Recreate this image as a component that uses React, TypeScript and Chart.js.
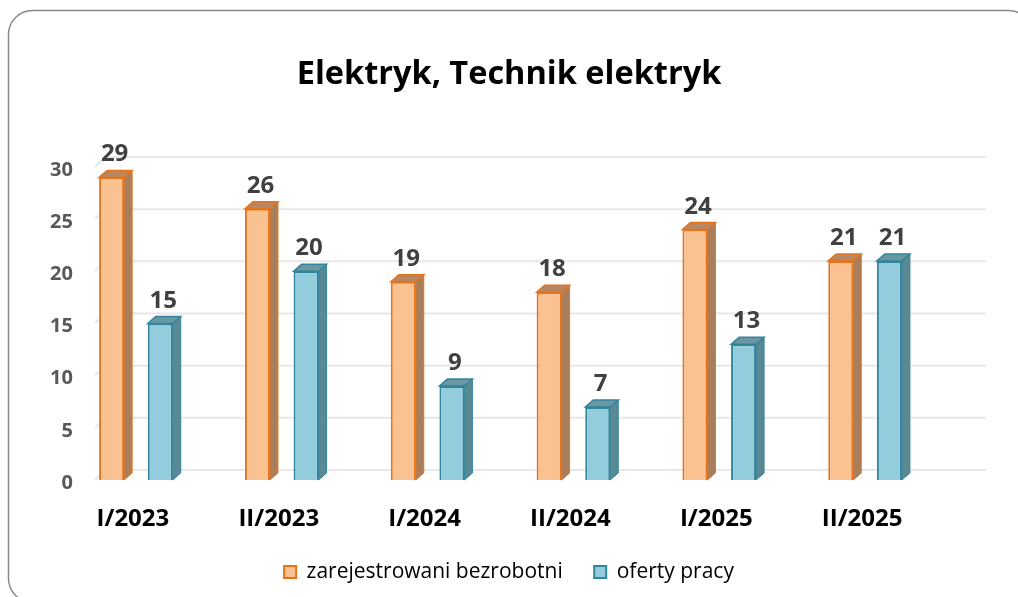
import React, { useEffect, useRef } from "react";
import { Chart, registerables } from "chart.js";

Chart.register(...registerables);

const titleText = "Elektryk, Technik elektryk";
const categories = ["I/2023", "II/2023", "I/2024", "II/2024", "I/2025", "II/2025"];
const seriesNames = ["zarejestrowani bezrobotni", "oferty pracy"];
const unemployed = [29, 26, 19, 18, 24, 21];
const jobOffers = [15, 20, 9, 7, 13, 21];
const yTicks = [0, 5, 10, 15, 20, 25, 30];

const FONT = "'Open Sans', 'DejaVu Sans', sans-serif";

const faces = [
  { front: "#fac191", border: "#e8731a", side: "#a97e5a", top: "#b68760" },
  { front: "#93cddd", border: "#31859c", side: "#5a8893", top: "#6a97a2" },
];

const DX = 8;
const DY = 7;

const framePlugin = {
  id: "frame",
  beforeDraw(chart: any) {
    const ctx = chart.ctx;
    ctx.save();
    ctx.fillStyle = "#ffffff";
    ctx.fillRect(0, 0, chart.width, chart.height);
    ctx.strokeStyle = "#8a8a8a";
    ctx.lineWidth = 1.5;
    const x = 8.5, y = 10.5, w = 1024, h = 592, r = 24;
    ctx.beginPath();
    ctx.moveTo(x + r, y);
    ctx.lineTo(x + w - r, y);
    ctx.arcTo(x + w, y, x + w, y + r, r);
    ctx.lineTo(x + w, y + h - r);
    ctx.arcTo(x + w, y + h, x + w - r, y + h, r);
    ctx.lineTo(x + r, y + h);
    ctx.arcTo(x, y + h, x, y + h - r, r);
    ctx.lineTo(x, y + r);
    ctx.arcTo(x, y, x + r, y, r);
    ctx.stroke();
    ctx.restore();
  },
};

const wallPlugin = {
  id: "wall",
  beforeDatasetsDraw(chart: any) {
    const ctx = chart.ctx;
    const ys = chart.scales.y;
    const area = chart.chartArea;
    ctx.save();
    ctx.strokeStyle = "#e8e8e8";
    ctx.lineWidth = 2;
    yTicks.forEach((v) => {
      const yf = ys.getPixelForValue(v);
      ctx.beginPath();
      ctx.moveTo(area.left + 32, yf);
      ctx.lineTo(area.left + 42, yf - 10);
      ctx.lineTo(area.right + 48, yf - 10);
      ctx.stroke();
    });
    ctx.restore();
  },
};

const bar3dPlugin = {
  id: "bar3d",
  afterDatasetsDraw(chart: any) {
    const ctx = chart.ctx;
    ctx.save();
    chart.data.datasets.forEach((ds: any, i: number) => {
      const meta = chart.getDatasetMeta(i);
      const f = faces[i];
      meta.data.forEach((bar: any, j: number) => {
        const { x, y, base, width } = bar.getProps(["x", "y", "base", "width"], true);
        const l = x - width / 2;
        const r = x + width / 2;
        ctx.lineWidth = 1;
        ctx.strokeStyle = f.border;
        // side face
        ctx.beginPath();
        ctx.moveTo(r, y);
        ctx.lineTo(r + DX, y - DY);
        ctx.lineTo(r + DX, base - DY);
        ctx.lineTo(r, base);
        ctx.closePath();
        ctx.fillStyle = f.side;
        ctx.fill();
        ctx.stroke();
        // top face
        ctx.beginPath();
        ctx.moveTo(l, y);
        ctx.lineTo(l + DX, y - DY);
        ctx.lineTo(r + DX, y - DY);
        ctx.lineTo(r, y);
        ctx.closePath();
        ctx.fillStyle = f.top;
        ctx.fill();
        ctx.lineWidth = 1.5;
        ctx.stroke();
        // value label
        ctx.fillStyle = "#404040";
        ctx.font = `bold 24px ${FONT}`;
        ctx.textAlign = "center";
        ctx.textBaseline = "alphabetic";
        ctx.fillText(String(ds.data[j]), x + 3, y - 16);
      });
    });
    ctx.restore();
  },
};

export default function App() {
  const ref = useRef<HTMLCanvasElement | null>(null);

  useEffect(() => {
    if (!ref.current) return;
    const chart = new Chart(ref.current, {
      type: "bar",
      data: {
        labels: categories,
        datasets: [
          {
            label: seriesNames[0],
            data: unemployed,
            backgroundColor: faces[0].front,
            borderColor: faces[0].border,
            borderWidth: 2,
            categoryPercentage: 0.667,
            barPercentage: 0.514,
          },
          {
            label: seriesNames[1],
            data: jobOffers,
            backgroundColor: faces[1].front,
            borderColor: faces[1].border,
            borderWidth: 2,
            categoryPercentage: 0.667,
            barPercentage: 0.514,
          },
        ],
      },
      options: {
        animation: false,
        responsive: false,
        maintainAspectRatio: false,
        layout: { padding: { left: 0, right: 0, top: 0, bottom: 4.5 } },
        plugins: {
          title: {
            display: true,
            text: titleText,
            color: "#000000",
            font: { family: FONT, size: 32.5, weight: "bold" },
            padding: { top: 55, bottom: 73 },
          },
          legend: {
            position: "bottom",
            labels: {
              color: "#000000",
              font: { family: FONT, size: 21 },
              boxWidth: 12,
              boxHeight: 12,
              padding: 31.5,
            },
          },
          tooltip: { enabled: false },
        },
        scales: {
          x: {
            grid: { display: false },
            border: { display: false },
            ticks: {
              color: "#000000",
              font: { family: FONT, size: 24, weight: "bold" },
              padding: 17,
              labelOffset: -3,
            },
            afterFit: (s: any) => {
              s.height = 50;
            },
          },
          y: {
            min: 0,
            max: 30,
            grid: { display: false },
            border: { display: false },
            ticks: {
              stepSize: 5,
              color: "#595959",
              font: { family: FONT, size: 20, weight: "bold" },
              mirror: true,
              crossAlign: "far",
              padding: -13,
              labelOffset: 3,
            },
            afterFit: (s: any) => {
              s.width = 63;
            },
          },
          pad: {
            type: "linear",
            position: "right",
            display: true,
            grid: { display: false },
            border: { display: false },
            ticks: { display: false },
            afterFit: (s: any) => {
              s.width = 80;
            },
          },
        },
      },
      plugins: [framePlugin, wallPlugin, bar3dPlugin],
    });
    return () => chart.destroy();
  }, []);

  return (
    <div style={{ position: "fixed", left: 0, top: 0, width: 1018, height: 597 }}>
      <canvas ref={ref} width={1018} height={597} style={{ display: "block" }} />
    </div>
  );
}
